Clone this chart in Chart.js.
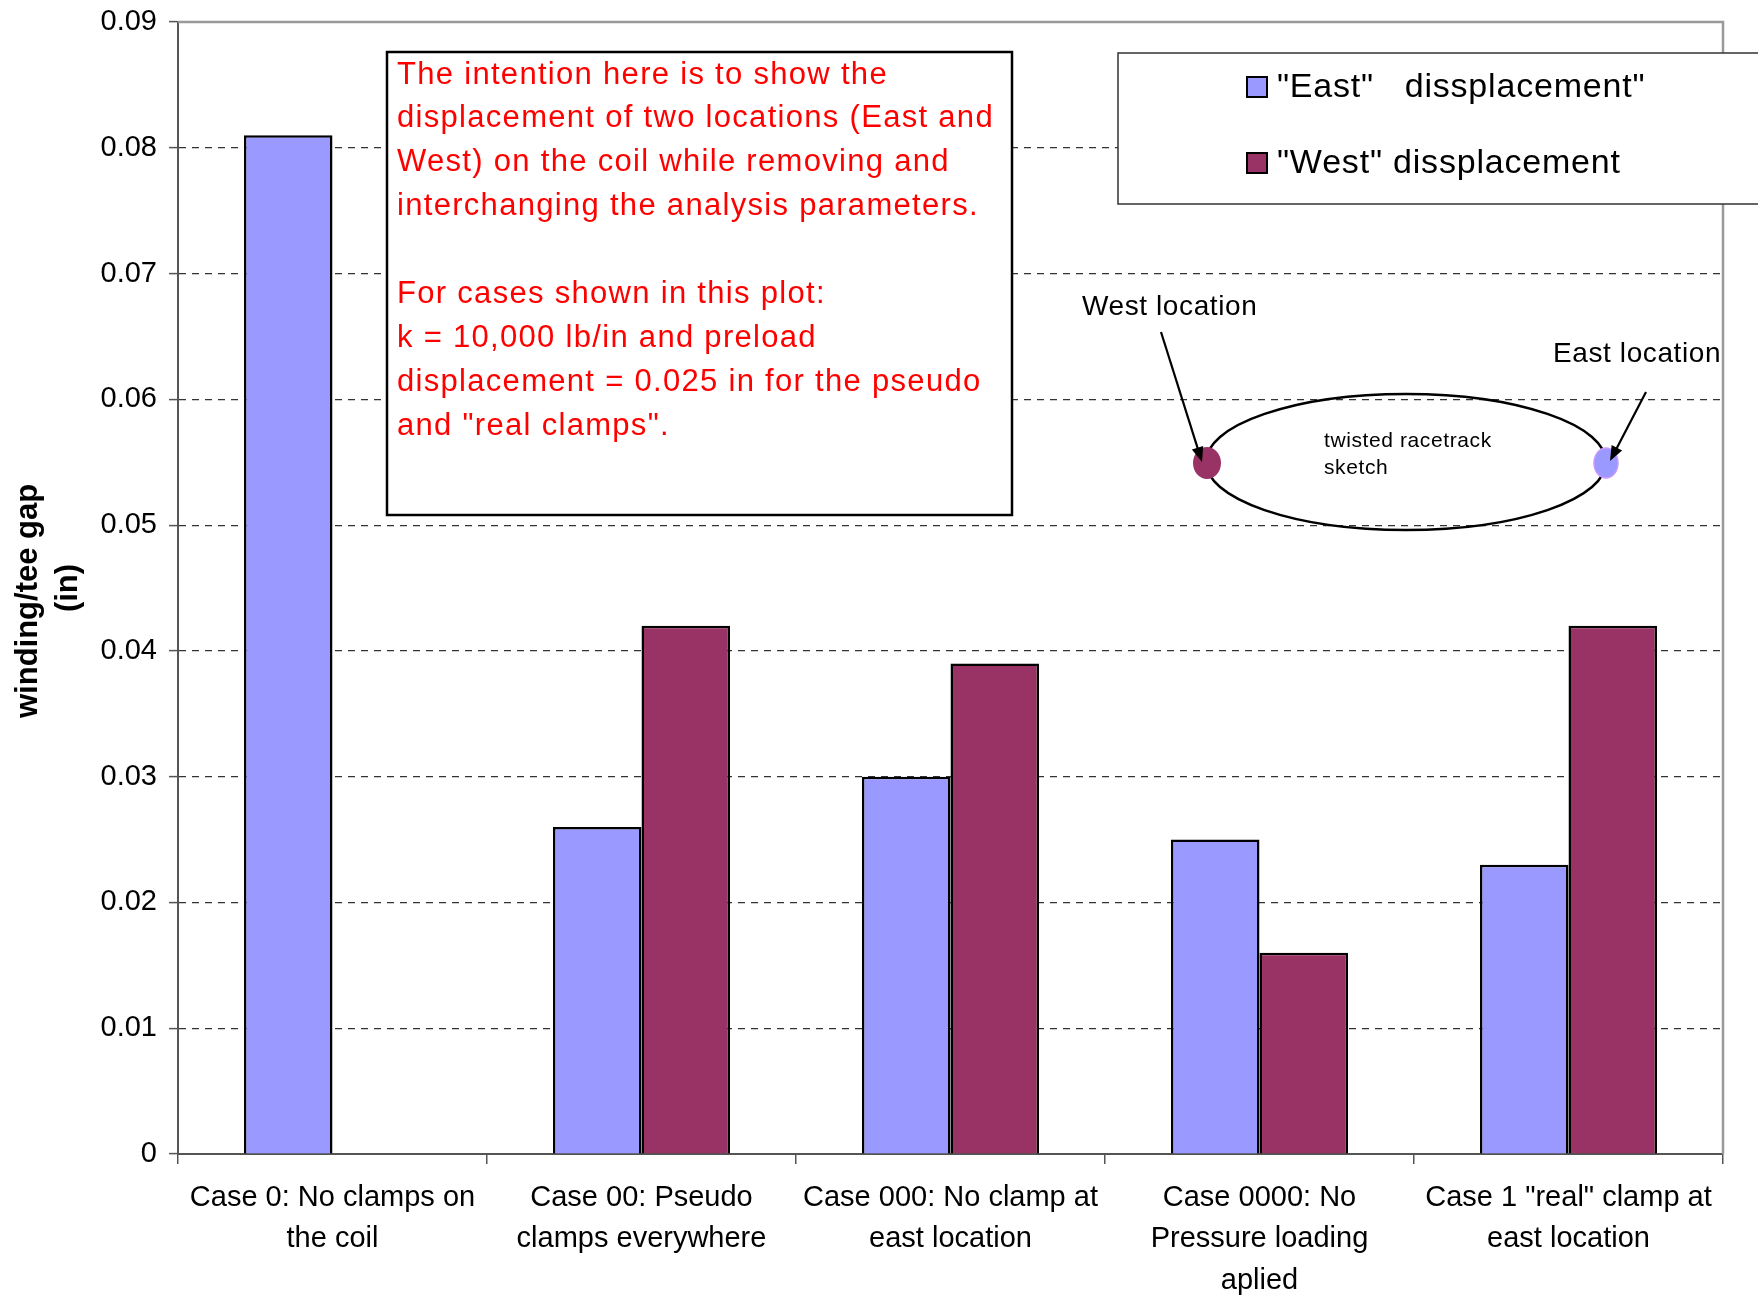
<!DOCTYPE html>
<html>
<head>
<meta charset="utf-8">
<script src="https://cdn.jsdelivr.net/npm/chart.js@4.4.0/dist/chart.umd.min.js"></script>
<style>
  html, body { margin: 0; padding: 0; background: #fff; }
</style>
</head>
<body>
<canvas id="chart" width="1758" height="1295"></canvas>
<script>
const caseLabels = [
  ["Case 0: No clamps on", "the coil"],
  ["Case 00: Pseudo", "clamps everywhere"],
  ["Case 000: No clamp at", "east location"],
  ["Case 0000: No", "Pressure loading", "aplied"],
  ['Case 1 "real" clamp at', "east location"],
];
const eastValues = [0.081, 0.026, 0.030, 0.025, 0.023];
const westValues = [null, 0.042, 0.039, 0.016, 0.042];
const seriesNames = ['"East"   dissplacement"', '"West" dissplacement'];
const yTickLabels = ["0", "0.01", "0.02", "0.03", "0.04", "0.05", "0.06", "0.07", "0.08", "0.09"];

const noteLines = [
  "The intention here is to show the",
  "displacement of two locations (East and",
  "West) on the coil while removing and",
  "interchanging the analysis parameters.",
  "",
  "For cases shown in this plot:",
  "k = 10,000 lb/in and preload",
  "displacement = 0.025 in for the pseudo",
  'and "real clamps".',
];

const FONT = '"Liberation Sans", Arial, sans-serif';

function arrow(ctx, x1, y1, x2, y2) {
  const ang = Math.atan2(y2 - y1, x2 - x1);
  const len = 16, spread = 0.38;
  ctx.beginPath();
  ctx.moveTo(x1, y1);
  ctx.lineTo(x2 - Math.cos(ang) * 8, y2 - Math.sin(ang) * 8);
  ctx.stroke();
  ctx.beginPath();
  ctx.moveTo(x2, y2);
  ctx.lineTo(x2 - len * Math.cos(ang - spread), y2 - len * Math.sin(ang - spread));
  ctx.lineTo(x2 - len * Math.cos(ang + spread), y2 - len * Math.sin(ang + spread));
  ctx.closePath();
  ctx.fill();
}

const decorations = {
  id: "decorations",
  afterDatasetsDraw(chart) {
    const { ctx, chartArea: a } = chart;
    ctx.save();

    // plot area top / right border
    ctx.strokeStyle = "#999";
    ctx.lineWidth = 2.5;
    ctx.beginPath();
    ctx.moveTo(a.left, a.top);
    ctx.lineTo(a.right, a.top);
    ctx.lineTo(a.right, a.bottom);
    ctx.stroke();

    // note box
    const bx = 387, by = 52, bw = 625, bh = 463;
    ctx.fillStyle = "#fff";
    ctx.fillRect(bx, by, bw, bh);
    ctx.strokeStyle = "#000";
    ctx.lineWidth = 2.5;
    ctx.strokeRect(bx, by, bw, bh);
    ctx.fillStyle = "#ff0000";
    ctx.font = "31px " + FONT;
    ctx.letterSpacing = "1.3px";
    ctx.textBaseline = "middle";
    ctx.textAlign = "left";
    noteLines.forEach((t, i) => ctx.fillText(t, bx + 10, by + 23 + i * 43.9));
    ctx.letterSpacing = "0px";

    // legend
    const lx = 1118, ly = 53;
    ctx.fillStyle = "#fff";
    ctx.fillRect(lx, ly, 700, 151);
    ctx.strokeStyle = "#333";
    ctx.lineWidth = 1.5;
    ctx.strokeRect(lx, ly, 700, 151);
    ctx.font = "34px " + FONT;
    ctx.letterSpacing = "0.8px";
    chart.data.datasets.forEach((ds, i) => {
      const cy = ly + 34 + i * 76;
      ctx.fillStyle = ds.backgroundColor;
      ctx.fillRect(1247, cy - 10, 20, 20);
      ctx.strokeStyle = "#000";
      ctx.lineWidth = 2;
      ctx.strokeRect(1247, cy - 10, 20, 20);
      ctx.fillStyle = "#000";
      ctx.fillText(ds.label, 1277, cy + 1);
    });
    ctx.letterSpacing = "0px";

    // racetrack sketch
    ctx.strokeStyle = "#000";
    ctx.lineWidth = 2.5;
    ctx.beginPath();
    ctx.ellipse(1406, 462, 200, 68, 0, 0, Math.PI * 2);
    ctx.stroke();
    ctx.fillStyle = "#993366";
    ctx.beginPath();
    ctx.ellipse(1207, 463, 14, 16, 0, 0, Math.PI * 2);
    ctx.fill();
    ctx.fillStyle = "#9999ff";
    ctx.strokeStyle = "#cc99ff";
    ctx.lineWidth = 1.5;
    ctx.beginPath();
    ctx.ellipse(1606, 463, 12, 15, 0, 0, Math.PI * 2);
    ctx.fill();
    ctx.stroke();

    ctx.fillStyle = "#000";
    ctx.font = "28px " + FONT;
    ctx.letterSpacing = "0.6px";
    ctx.fillText("West location", 1082, 307);
    ctx.fillText("East location", 1553, 354);
    ctx.font = "21px " + FONT;
    ctx.letterSpacing = "0.6px";
    ctx.fillText("twisted racetrack", 1324, 441);
    ctx.fillText("sketch", 1324, 468);
    ctx.letterSpacing = "0px";

    ctx.strokeStyle = "#000";
    ctx.lineWidth = 2.2;
    arrow(ctx, 1161, 332, 1202, 462);
    arrow(ctx, 1646, 392, 1610, 461);

    ctx.restore();
  },
};

const chart = new Chart(document.getElementById("chart"), {
  type: "bar",
  data: {
    labels: caseLabels,
    datasets: [
      {
        label: seriesNames[0],
        data: eastValues,
        backgroundColor: "#9999ff",
        borderColor: "#000",
        borderWidth: 2.5,
      },
      {
        label: seriesNames[1],
        data: westValues,
        backgroundColor: "#993366",
        borderColor: "#000",
        borderWidth: 2.5,
      },
    ],
  },
  plugins: [decorations],
  options: {
    responsive: false,
    animation: false,
    layout: { padding: { top: 22, right: 35, left: 0, bottom: 0 } },
    datasets: { bar: { barPercentage: 1, categoryPercentage: 0.573 } },
    plugins: {
      legend: { display: false },
      tooltip: { enabled: false },
    },
    scales: {
      x: {
        grid: { drawOnChartArea: false, tickLength: 10, color: "#555", lineWidth: 1.5 },
        border: { color: "#555", width: 2 },
        ticks: {
          maxRotation: 0,
          autoSkip: false,
          padding: 13,
          color: "#000",
          font: { family: FONT, size: 29, lineHeight: 1.43 },
        },
        afterFit: (s) => { s.height = 141; },
      },
      y: {
        min: 0,
        max: 0.09,
        ticks: {
          stepSize: 0.01,
          padding: 12,
          color: "#000",
          font: { family: FONT, size: 29, lineHeight: 0.6 },
          callback: (v, i) => yTickLabels[i],
        },
        grid: {
          color: (c) => (c.index === 0 || c.index === 9 ? "rgba(0,0,0,0)" : "#333"),
          lineWidth: 1.2,
          tickLength: 9,
          tickColor: "#555",
          tickWidth: 1.5,
        },
        border: { color: "#555", width: 2, dash: [7, 6] },
        title: {
          display: true,
          text: ["winding/tee gap   ", "(in)"],
          color: "#000",
          font: { family: FONT, size: 31, weight: "bold", lineHeight: 1.27 },
          padding: { top: 9, bottom: 0 },
        },
        afterFit: (s) => { s.width = 178; },
      },
    },
  },
});
</script>
</body>
</html>
